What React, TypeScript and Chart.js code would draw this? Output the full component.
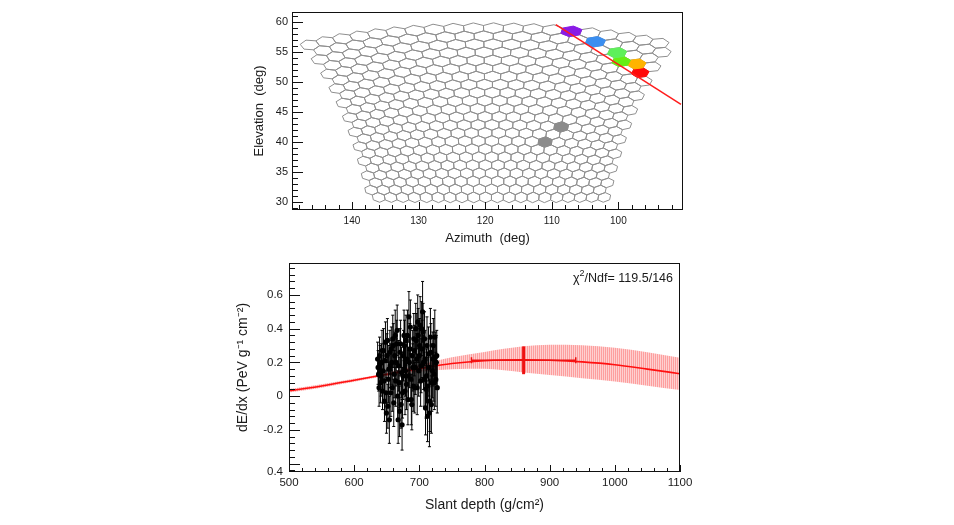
import React, { useEffect, useRef } from "react";
import { Chart, registerables } from "chart.js";

Chart.register(...registerables);

const FONT = "'Liberation Sans', Arial, sans-serif";
const TEXT = "#1a1a1a";

// ---------------- Top panel: camera view (440 hexagonal pixels, 22 rows x 20 columns) ----------------
const cameraRows = 22;
const cameraColumns = 20;
const pixelPitchDeg = 1.53;
const rowPitchDeg = 1.343;
const cameraAzCenter = 119.5;
const cameraElBottom = 30.8;
const topEdgeDropDeg = 2.8;

const hitPixelAz = [106.9, 103.3, 100.0, 99.5, 97.0, 96.5, 108.5, 110.9];
const hitPixelEl = [58.3, 56.6, 54.9, 53.4, 53.0, 51.5, 42.8, 40.6];
const hitPixelColor = ["#8a1be6", "#3a8ef0", "#5ef05a", "#66ee14", "#ffb400", "#ff0a0a", "#8c8c8c", "#8c8c8c"];

const trackAz = [109.4, 90.6];
const trackEl = [59.6, 46.3];

const azimuthTicks = [100, 110, 120, 130, 140];
const elevationTicks = [30, 35, 40, 45, 50, 55, 60];
const azimuthRange = [90.3, 149];
const elevationRange = [28.7, 61.7];

// ---------------- Bottom panel: energy deposit profile ----------------
const depthA = [636, 637.5, 639, 640.5, 642, 643.5, 645, 646.5, 648, 649.5, 651, 652.5, 654, 655.5, 657, 658.5, 660, 661.5, 663, 664.5, 666, 667.5, 669, 670.5, 672, 673.5, 675, 676.5, 678, 679.5, 681, 682.5, 684, 685.5, 687, 688.5, 690, 691.5, 693, 694.5, 696, 697.5, 699, 700.5, 702, 703.5, 705, 706.5, 708, 709.5, 711, 712.5, 714, 715.5, 717, 718.5, 720, 721.5, 723, 724.5, 726, 727.5];
const dedxA = [0.22, 0.13, 0.24, 0.08, 0.2, 0.03, 0.27, -0.03, 0.32, -0.1, 0.33, 0.1, -0.14, 0.18, 0.28, 0.05, 0.3, 0.13, 0.36, 0.2, 0.39, -0.14, 0.08, 0.26, -0.05, -0.17, 0.12, 0.36, 0.03, 0.33, 0.22, -0.02, 0.47, 0.28, 0.1, -0.05, 0.17, 0.34, 0.05, 0.4, 0.22, 0.44, 0.15, 0.3, 0.09, 0.4, 0.5, 0.2, 0.34, -0.07, 0.12, -0.12, 0.25, -0.1, 0.35, -0.05, 0.15, 0.3, 0.08, 0.23, 0.2, 0.05];
const dedxErrA = [0.1, 0.1, 0.11, 0.12, 0.11, 0.11, 0.13, 0.12, 0.12, 0.12, 0.13, 0.14, 0.14, 0.13, 0.13, 0.14, 0.13, 0.14, 0.15, 0.14, 0.15, 0.14, 0.15, 0.14, 0.14, 0.15, 0.14, 0.15, 0.14, 0.15, 0.14, 0.15, 0.15, 0.15, 0.15, 0.15, 0.14, 0.15, 0.15, 0.15, 0.15, 0.16, 0.15, 0.16, 0.15, 0.16, 0.18, 0.16, 0.16, 0.16, 0.16, 0.15, 0.16, 0.2, 0.17, 0.17, 0.16, 0.16, 0.16, 0.15, 0.16, 0.15];
const depthB = [636.75, 638.25, 639.75, 641.25, 642.75, 644.25, 645.75, 647.25, 648.75, 650.25, 651.75, 653.25, 654.75, 656.25, 657.75, 659.25, 660.75, 662.25, 663.75, 665.25, 666.75, 668.25, 669.75, 671.25, 672.75, 674.25, 675.75, 677.25, 678.75, 680.25, 681.75, 683.25, 684.75, 686.25, 687.75, 689.25, 690.75, 692.25, 693.75, 695.25, 696.75, 698.25, 699.75, 701.25, 702.75, 704.25, 705.75, 707.25, 708.75, 710.25, 711.75, 713.25, 714.75, 716.25, 717.75, 719.25, 720.75, 722.25, 723.75, 725.25, 726.75];
const dedxB = [0.17, 0.05, 0.19, 0.12, 0.27, 0.15, 0.09, 0.21, 0.02, 0.24, -0.06, 0.16, 0.26, 0.02, 0.2, 0.34, -0.04, 0.24, 0.09, 0.31, 0.0, 0.18, -0.09, 0.31, 0.14, 0.02, 0.24, 0.3, 0.15, 0.07, 0.36, 0.12, 0.2, 0.41, -0.02, 0.24, 0.06, 0.27, 0.17, 0.33, 0.05, 0.36, 0.24, 0.42, 0.18, 0.28, 0.38, 0.1, 0.22, 0.04, 0.3, 0.06, 0.17, -0.03, 0.26, 0.08, 0.22, 0.13, 0.35, 0.1, 0.24];
const dedxErrB = [0.1, 0.11, 0.11, 0.12, 0.12, 0.12, 0.13, 0.12, 0.13, 0.13, 0.13, 0.14, 0.13, 0.14, 0.13, 0.14, 0.14, 0.14, 0.15, 0.14, 0.15, 0.15, 0.15, 0.14, 0.15, 0.15, 0.15, 0.15, 0.15, 0.15, 0.15, 0.15, 0.15, 0.16, 0.15, 0.15, 0.15, 0.15, 0.16, 0.16, 0.16, 0.16, 0.16, 0.17, 0.16, 0.17, 0.17, 0.16, 0.17, 0.17, 0.17, 0.17, 0.17, 0.18, 0.17, 0.17, 0.16, 0.16, 0.16, 0.16, 0.15];
const depth = depthA.concat(depthB);
const dedx = dedxA.concat(dedxB);
const dedxErr = dedxErrA.concat(dedxErrB);

const fitDepth = [500, 550, 600, 640, 700, 750, 800, 860, 900, 950, 1000, 1050, 1100];
const fitDedx = [0.032, 0.06, 0.094, 0.122, 0.163, 0.193, 0.21, 0.216, 0.213, 0.203, 0.186, 0.16, 0.133];
const fitBandHigh = [0.042, 0.07, 0.103, 0.13, 0.185, 0.23, 0.262, 0.295, 0.305, 0.302, 0.287, 0.26, 0.228];
const fitBandLow = [0.022, 0.05, 0.085, 0.114, 0.145, 0.16, 0.162, 0.14, 0.125, 0.106, 0.087, 0.062, 0.036];

const xmaxDepth = 860;
const xmaxDepthErr = 80;
const xmaxDedx = 0.213;
const xmaxDedxLow = 0.13;
const xmaxDedxHigh = 0.295;

const depthTicks = [500, 600, 700, 800, 900, 1000, 1100];
const dedxTickValues = [-0.45, -0.2, 0, 0.2, 0.4, 0.6];
const dedxTickLabels = ["0.4", "-0.2", "0", "0.2", "0.4", "0.6"];
const dedxMajorTicks = [-0.4, -0.2, 0, 0.2, 0.4, 0.6];
const depthRange = [500, 1100];
const dedxRange = [-0.45, 0.79];
const fitChi2 = "119.5";
const fitNdf = "146";

// ---------------- geometry helpers ----------------
function camToSky(u: number, v: number): [number, number] {
  const vTop = (cameraRows - 1) * rowPitchDeg;
  const uEdge = ((cameraColumns - 1) / 2 + 0.25) * pixelPitchDeg;
  const el = cameraElBottom + v - topEdgeDropDeg * Math.pow(u / uEdge, 2) * (v / vTop);
  const az = cameraAzCenter + u / Math.cos((el * Math.PI) / 180);
  return [az, el];
}

type Pix = { x: number; y: number; u: number; v: number; color: string | null };

function buildCameraPixels(): Pix[] {
  const pixels: Pix[] = [];
  for (let r = 0; r < cameraRows; r++) {
    for (let k = 0; k < cameraColumns; k++) {
      const u = (k - (cameraColumns - 1) / 2 + (r % 2 === 1 ? 0.25 : -0.25)) * pixelPitchDeg;
      const v = r * rowPitchDeg;
      const [az, el] = camToSky(u, v);
      pixels.push({ x: az, y: el, u, v, color: null });
    }
  }
  hitPixelAz.forEach((az, k) => {
    const el = hitPixelEl[k];
    let best = 0;
    let bestD = Infinity;
    pixels.forEach((p, idx) => {
      const dx = (p.x - az) * Math.cos((el * Math.PI) / 180);
      const dy = p.y - el;
      const d = dx * dx + dy * dy;
      if (d < bestD) {
        bestD = d;
        best = idx;
      }
    });
    pixels[best].color = hitPixelColor[k];
  });
  return pixels;
}

const hexPlugin = {
  id: "hexCamera",
  beforeDatasetsDraw(chart: any) {
    const { ctx, chartArea: a, scales } = chart;
    const xs = scales.x;
    const ys = scales.y;
    const pixels: Pix[] = chart.data.datasets[1].data;
    const hw = pixelPitchDeg / 2;
    const side = rowPitchDeg / 3;
    const tip = (rowPitchDeg * 2) / 3;
    ctx.save();
    ctx.beginPath();
    ctx.rect(a.left, a.top, a.right - a.left, a.bottom - a.top);
    ctx.clip();
    ctx.lineWidth = 1;
    ctx.lineJoin = "round";
    const drawHex = (p: Pix) => {
      const verts = [
        [p.u, p.v + tip],
        [p.u + hw, p.v + side],
        [p.u + hw, p.v - side],
        [p.u, p.v - tip],
        [p.u - hw, p.v - side],
        [p.u - hw, p.v + side],
      ];
      ctx.beginPath();
      verts.forEach(([uu, vv], k) => {
        const [az, el] = camToSky(uu, vv);
        const px = xs.getPixelForValue(az);
        const py = ys.getPixelForValue(el);
        if (k === 0) ctx.moveTo(px, py);
        else ctx.lineTo(px, py);
      });
      ctx.closePath();
    };
    pixels.forEach((p) => {
      if (p.color) return;
      drawHex(p);
      ctx.strokeStyle = "#8f8f8f";
      ctx.stroke();
    });
    pixels.forEach((p) => {
      if (!p.color) return;
      drawHex(p);
      ctx.fillStyle = p.color;
      ctx.fill();
      ctx.strokeStyle = p.color;
      ctx.stroke();
    });
    ctx.restore();
  },
};

type TickCfg = {
  xMajor: number[];
  xMinorStep: number;
  xMajorLen: number;
  xMinorLen: number;
  yMajor: number[];
  yMinorStep: number;
  yMajorLen: number;
  yMinorLen: number;
};

function frameTicksPlugin(cfg: TickCfg) {
  return {
    id: "frameTicks",
    afterDraw(chart: any) {
      const { ctx, chartArea: a, scales } = chart;
      const xs = scales.x;
      const ys = scales.y;
      ctx.save();
      ctx.strokeStyle = "#111";
      ctx.lineWidth = 1;
      ctx.beginPath();
      const xlo = Math.min(xs.min, xs.max);
      const xhi = Math.max(xs.min, xs.max);
      for (let k = Math.ceil(xlo / cfg.xMinorStep - 1e-9); k * cfg.xMinorStep <= xhi + 1e-9; k++) {
        const v = k * cfg.xMinorStep;
        const isMajor = cfg.xMajor.some((m) => Math.abs(m - v) < 1e-6);
        const len = isMajor ? cfg.xMajorLen : cfg.xMinorLen;
        const px = Math.round(xs.getPixelForValue(v)) + 0.5;
        ctx.moveTo(px, a.bottom);
        ctx.lineTo(px, a.bottom - len);
      }
      for (let k = Math.ceil(ys.min / cfg.yMinorStep - 1e-9); k * cfg.yMinorStep <= ys.max + 1e-9; k++) {
        const v = k * cfg.yMinorStep;
        const isMajor = cfg.yMajor.some((m) => Math.abs(m - v) < 1e-6);
        const len = isMajor ? cfg.yMajorLen : cfg.yMinorLen;
        const py = Math.round(ys.getPixelForValue(v)) + 0.5;
        ctx.moveTo(a.left, py);
        ctx.lineTo(a.left + len, py);
      }
      ctx.stroke();
      ctx.strokeRect(Math.round(a.left) + 0.5, Math.round(a.top) + 0.5, Math.round(a.right - a.left) - 1, Math.round(a.bottom - a.top) - 1);
      ctx.restore();
    },
  };
}

const profileExtrasPlugin = {
  id: "profileExtras",
  afterDatasetsDraw(chart: any) {
    const { ctx, chartArea: a, scales } = chart;
    const xs = scales.x;
    const ys = scales.y;
    ctx.save();
    ctx.beginPath();
    ctx.rect(a.left, a.top, a.right - a.left, a.bottom - a.top);
    ctx.clip();
    ctx.strokeStyle = "#000";
    ctx.lineWidth = 1;
    ctx.beginPath();
    depth.forEach((d, i) => {
      const px = xs.getPixelForValue(d);
      const y1 = ys.getPixelForValue(dedx[i] + dedxErr[i]);
      const y2 = ys.getPixelForValue(dedx[i] - dedxErr[i]);
      ctx.moveTo(px, y1);
      ctx.lineTo(px, y2);
      ctx.moveTo(px - 1.5, y1);
      ctx.lineTo(px + 1.5, y1);
      ctx.moveTo(px - 1.5, y2);
      ctx.lineTo(px + 1.5, y2);
    });
    ctx.stroke();
    const cx = xs.getPixelForValue(xmaxDepth);
    const cy = ys.getPixelForValue(xmaxDedx);
    const xl = xs.getPixelForValue(xmaxDepth - xmaxDepthErr);
    const xr = xs.getPixelForValue(xmaxDepth + xmaxDepthErr);
    ctx.strokeStyle = "#ee1111";
    ctx.lineWidth = 1.5;
    ctx.beginPath();
    ctx.moveTo(xl, cy);
    ctx.lineTo(xr, cy);
    ctx.moveTo(xl, cy - 3);
    ctx.lineTo(xl, cy + 3);
    ctx.moveTo(xr, cy - 3);
    ctx.lineTo(xr, cy + 3);
    ctx.stroke();
    ctx.lineWidth = 3;
    ctx.beginPath();
    ctx.moveTo(cx, ys.getPixelForValue(xmaxDedxHigh));
    ctx.lineTo(cx, ys.getPixelForValue(xmaxDedxLow));
    ctx.stroke();
    ctx.restore();

    ctx.save();
    ctx.fillStyle = TEXT;
    ctx.textBaseline = "alphabetic";
    const base = a.top + 19;
    const rest = "/Ndf= " + fitChi2 + "/" + fitNdf;
    ctx.font = `12.5px ${FONT}`;
    const wRest = ctx.measureText(rest).width;
    const wChi = ctx.measureText("\u03c7").width;
    ctx.font = `9px ${FONT}`;
    const wSup = ctx.measureText("2").width;
    const right = a.right - 7;
    const x0 = right - wRest - wSup - wChi;
    ctx.font = `12.5px ${FONT}`;
    ctx.fillText("\u03c7", x0, base);
    ctx.font = `9px ${FONT}`;
    ctx.fillText("2", x0 + wChi, base - 6);
    ctx.font = `12.5px ${FONT}`;
    ctx.fillText(rest, x0 + wChi + wSup, base);
    ctx.restore();
  },
};

function makeHatch(): any {
  const c = document.createElement("canvas");
  c.width = 2;
  c.height = 2;
  const g = c.getContext("2d");
  if (!g) return "rgba(255,60,60,0.35)";
  g.fillStyle = "rgba(250,40,40,0.45)";
  g.fillRect(0, 0, 1, 2);
  g.fillStyle = "rgba(250,40,40,0.22)";
  g.fillRect(1, 0, 1, 2);
  return g.createPattern(c, "repeat") || "rgba(255,60,60,0.35)";
}

export default function App() {
  const topRef = useRef<HTMLCanvasElement>(null);
  const botRef = useRef<HTMLCanvasElement>(null);

  useEffect(() => {
    if (!topRef.current || !botRef.current) return;
    const pixels = buildCameraPixels();

    const top = new Chart(topRef.current, {
      type: "scatter",
      data: {
        datasets: [
          {
            data: trackAz.map((az, i) => ({ x: az, y: trackEl[i] })),
            showLine: true,
            borderColor: "#ff1c1c",
            borderWidth: 1.5,
            pointRadius: 0,
          },
          {
            data: pixels as any,
            pointRadius: 0,
            showLine: false,
          },
        ],
      },
      options: {
        responsive: false,
        animation: false,
        events: [],
        layout: { padding: { top: 12, right: 17, left: 0, bottom: 0 } },
        plugins: { legend: { display: false }, tooltip: { enabled: false } },
        scales: {
          x: {
            type: "linear",
            reverse: true,
            min: azimuthRange[0],
            max: azimuthRange[1],
            grid: { display: false, drawTicks: false },
            border: { display: false },
            afterBuildTicks: (s: any) => {
              s.ticks = azimuthTicks.map((v) => ({ value: v }));
            },
            afterFit: (s: any) => {
              s.height = 40;
            },
            ticks: {
              font: { family: FONT, size: 10 },
              color: TEXT,
              padding: 5,
              maxRotation: 0,
              autoSkip: false,
              callback: (v: any) => String(v),
            },
            title: {
              display: true,
              text: "Azimuth  (deg)",
              font: { family: FONT, size: 13 },
              color: TEXT,
              padding: { top: 0, bottom: 4 },
            },
          },
          y: {
            type: "linear",
            min: elevationRange[0],
            max: elevationRange[1],
            grid: { display: false, drawTicks: false },
            border: { display: false },
            afterBuildTicks: (s: any) => {
              s.ticks = elevationTicks.map((v) => ({ value: v }));
            },
            afterFit: (s: any) => {
              s.width = 62;
            },
            ticks: { font: { family: FONT, size: 11 }, color: TEXT, padding: 4, autoSkip: false, callback: (v: any) => String(v) },
            title: {
              display: true,
              text: "Elevation  (deg)",
              font: { family: FONT, size: 13 },
              color: TEXT,
              padding: { top: 22, bottom: 0 },
            },
          },
        },
      },
      plugins: [
        hexPlugin,
        frameTicksPlugin({
          xMajor: azimuthTicks,
          xMinorStep: 2,
          xMajorLen: 8,
          xMinorLen: 5,
          yMajor: elevationTicks,
          yMinorStep: 1,
          yMajorLen: 11,
          yMinorLen: 6,
        }),
      ],
    } as any);

    const hatch = makeHatch();
    const bottom = new Chart(botRef.current, {
      type: "scatter",
      data: {
        datasets: [
          {
            data: depth.map((d, i) => ({ x: d, y: dedx[i] })),
            pointRadius: 2.6,
            pointBackgroundColor: "#000",
            pointBorderWidth: 0,
            showLine: false,
          },
          {
            data: fitDepth.map((d, i) => ({ x: d, y: fitDedx[i] })),
            showLine: true,
            borderColor: "#ff1010",
            borderWidth: 1.6,
            pointRadius: 0,
            tension: 0.4,
            cubicInterpolationMode: "monotone",
          },
          {
            data: fitDepth.map((d, i) => ({ x: d, y: fitBandHigh[i] })),
            showLine: true,
            borderWidth: 0,
            borderColor: "rgba(0,0,0,0)",
            pointRadius: 0,
            tension: 0.4,
            cubicInterpolationMode: "monotone",
            fill: "+1",
            backgroundColor: hatch,
          },
          {
            data: fitDepth.map((d, i) => ({ x: d, y: fitBandLow[i] })),
            showLine: true,
            borderWidth: 0,
            borderColor: "rgba(0,0,0,0)",
            pointRadius: 0,
            tension: 0.4,
            cubicInterpolationMode: "monotone",
          },
        ],
      },
      options: {
        responsive: false,
        animation: false,
        events: [],
        layout: { padding: { top: 8, right: 25, left: 0, bottom: 0 } },
        plugins: { legend: { display: false }, tooltip: { enabled: false } },
        scales: {
          x: {
            type: "linear",
            min: depthRange[0],
            max: depthRange[1],
            grid: { display: false, drawTicks: false },
            border: { display: false },
            afterBuildTicks: (s: any) => {
              s.ticks = depthTicks.map((v) => ({ value: v }));
            },
            afterFit: (s: any) => {
              s.height = 53;
            },
            ticks: {
              font: { family: FONT, size: 11.5 },
              color: TEXT,
              padding: 4,
              maxRotation: 0,
              autoSkip: false,
              callback: (v: any) => String(v),
            },
            title: {
              display: true,
              text: "Slant depth (g/cm\u00b2)",
              font: { family: FONT, size: 14 },
              color: TEXT,
              padding: { top: 0, bottom: 11 },
            },
          },
          y: {
            type: "linear",
            min: dedxRange[0],
            max: dedxRange[1],
            grid: { display: false, drawTicks: false },
            border: { display: false },
            afterBuildTicks: (s: any) => {
              s.ticks = dedxTickValues.map((v) => ({ value: v }));
            },
            afterFit: (s: any) => {
              s.width = 64;
            },
            ticks: {
              font: { family: FONT, size: 11.5 },
              color: TEXT,
              padding: 6,
              autoSkip: false,
              callback: (_v: any, idx: number) => dedxTickLabels[idx],
            },
            title: {
              display: true,
              text: "dE/dx (PeV g\u207b\u00b9 cm\u207b\u00b2)",
              font: { family: FONT, size: 14 },
              color: TEXT,
              padding: { top: 10, bottom: 0 },
            },
          },
        },
      },
      plugins: [
        profileExtrasPlugin,
        frameTicksPlugin({
          xMajor: depthTicks,
          xMinorStep: 20,
          xMajorLen: 7,
          xMinorLen: 4,
          yMajor: dedxMajorTicks,
          yMinorStep: 0.04,
          yMajorLen: 11,
          yMinorLen: 6,
        }),
      ],
    } as any);

    return () => {
      top.destroy();
      bottom.destroy();
    };
  }, []);

  return (
    <div style={{ position: "absolute", left: 0, top: 0, width: 954, height: 525, background: "#fff" }}>
      <canvas
        ref={topRef}
        width={470}
        height={250}
        style={{ position: "absolute", left: 230, top: 0, width: 470, height: 250 }}
      />
      <canvas
        ref={botRef}
        width={480}
        height={275}
        style={{ position: "absolute", left: 225, top: 250, width: 480, height: 275 }}
      />
    </div>
  );
}
